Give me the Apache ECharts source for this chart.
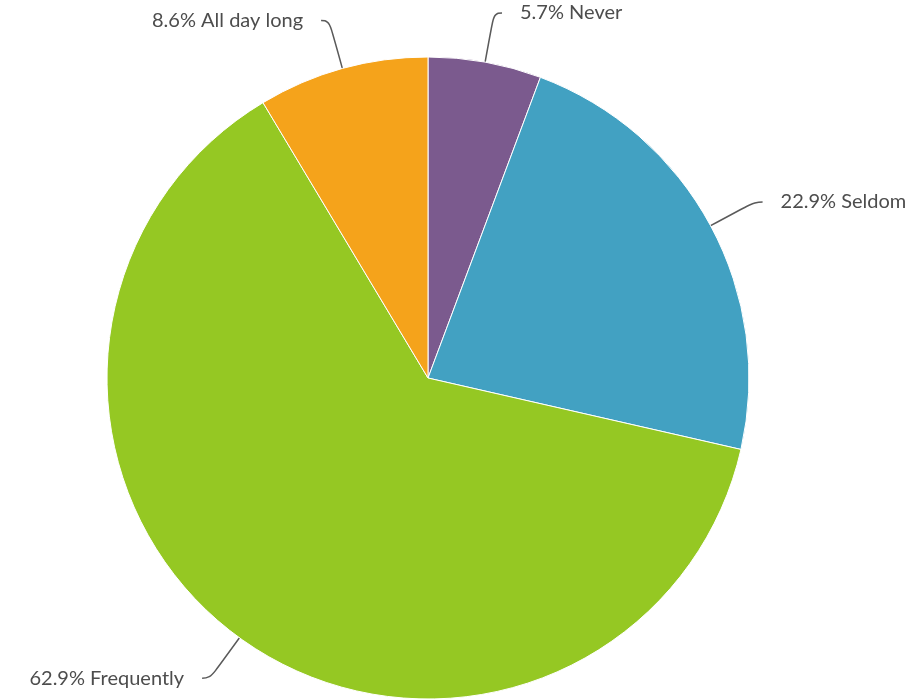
<!DOCTYPE html>
<html><head><meta charset="utf-8">
<script src="https://cdn.jsdelivr.net/npm/echarts@6/dist/echarts.min.js"></script>
<style>html,body{margin:0;padding:0;background:#fff}#c{width:918px;height:700px}</style>
</head><body><div id="c"></div>
<script>
const categories = ['Never', 'Seldom', 'Frequently', 'All day long'];
const values = [5.7, 22.9, 62.9, 8.6];
const colors = ['#7b5a8e', '#42a1c2', '#95c823', '#f5a31b'];

const chart = echarts.init(document.getElementById('c'));
chart.setOption({
  animation: false,
  series: [{
    type: 'pie',
    center: [428, 378],
    radius: 321,
    startAngle: 90,
    clockwise: true,
    data: categories.map((n, i) => ({ name: n, value: values[i], itemStyle: { color: colors[i] } })),
    itemStyle: { borderColor: '#fff', borderWidth: 1 },
    label: {
      formatter: p => p.value.toFixed(1) + '% ' + p.name,
      fontFamily: 'Lato',
      fontSize: 20,
      color: '#4d4d4d',
      distanceToLabelLine: 18
    },
    labelLine: {
      length: 50,
      length2: 8,
      smooth: 0.5,
      lineStyle: { color: '#5a5a5a', width: 1.5 }
    }
  }]
});
</script></body></html>
